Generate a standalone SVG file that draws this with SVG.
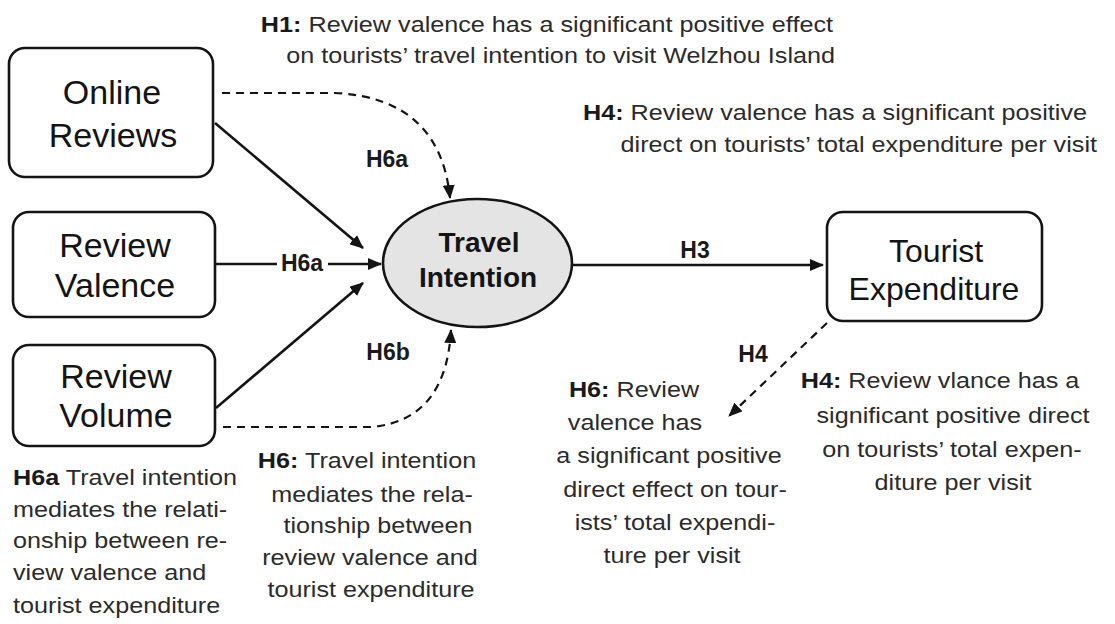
<svg xmlns="http://www.w3.org/2000/svg" width="1115" height="624" viewBox="0 0 1115 624">
<defs>
<style>
.box{fill:#fff;stroke:#141414;stroke-width:2.6}
.ell{fill:#e4e4e4;stroke:#141414;stroke-width:2.6}
.nt{font-family:"Liberation Sans",Arial,sans-serif;font-size:34px;fill:#141414;text-anchor:middle}
.nb{font-family:"Liberation Sans",Arial,sans-serif;font-size:28px;font-weight:bold;fill:#141414;text-anchor:middle}
.ln{fill:none;stroke:#141414;stroke-width:2.6}
.dl{fill:none;stroke:#141414;stroke-width:2.2;stroke-dasharray:8 6}
.lb{font-family:"Liberation Sans",Arial,sans-serif;font-size:23px;font-weight:bold;fill:#1a1a1a;text-anchor:middle}
.an{font-family:"Liberation Sans",Arial,sans-serif;font-size:22.5px;fill:#2b2b2b}
.an tspan.b{font-weight:bold;fill:#1a1a1a}
.m{text-anchor:middle}
.e{text-anchor:end}
</style>
<marker id="arr" viewBox="0 0 14 12" refX="13" refY="6" markerWidth="14" markerHeight="12" markerUnits="userSpaceOnUse" orient="auto">
<path d="M0,0 L14,6 L0,12 z" fill="#141414"/>
</marker>
</defs>
<rect width="1115" height="624" fill="#fff"/>

<g id="connectors">
<path class="ln" d="M215,123 L363,248" marker-end="url(#arr)"/>
<path class="ln" d="M215,264 L277,264"/>
<path class="ln" d="M328,264 L381,264" marker-end="url(#arr)"/>
<path class="ln" d="M216,408 L363,283" marker-end="url(#arr)"/>
<path class="dl" d="M222,93 L335,93 Q440,98 450,198" marker-end="url(#arr)"/>
<path class="dl" d="M223,427 L372,427 Q446,420 451,330" marker-end="url(#arr)"/>
<path class="ln" d="M572,265 L823,265" marker-end="url(#arr)"/>
<path class="dl" d="M827,323 L729,416" marker-end="url(#arr)"/>
</g>

<g id="node-online-reviews">
<rect class="box" x="9" y="48" width="204" height="129" rx="16"/>
<text class="nt" x="112" y="104">Online</text>
<text class="nt" x="113" y="147">Reviews</text>
</g>
<g id="node-review-valence">
<rect class="box" x="13" y="212" width="202" height="105" rx="16"/>
<text class="nt" x="115" y="257">Review</text>
<text class="nt" x="115" y="297">Valence</text>
</g>
<g id="node-review-volume">
<rect class="box" x="13" y="345" width="202" height="101" rx="16"/>
<text class="nt" x="116" y="388">Review</text>
<text class="nt" x="116" y="427">Volume</text>
</g>
<g id="node-travel-intention">
<ellipse class="ell" cx="477.5" cy="263" rx="94.5" ry="64"/>
<text class="nb" x="479" y="252">Travel</text>
<text class="nb" x="478" y="287">Intention</text>
</g>
<g id="node-tourist-expenditure">
<rect class="box" x="827" y="212" width="215" height="109" rx="16"/>
<text class="nt" x="936" y="262" style="font-size:32px">Tourist</text>
<text class="nt" x="934" y="300" style="font-size:32px">Expenditure</text>
</g>

<g id="edge-labels">
<text class="lb" x="387" y="167">H6a</text>
<text class="lb" x="302" y="271">H6a</text>
<text class="lb" x="388" y="360">H6b</text>
<text class="lb" x="695" y="258">H3</text>
<text class="lb" x="753" y="362">H4</text>
</g>

<g id="annotations">
<text class="an e" transform="translate(833,32) scale(1.12,1)"><tspan class="b">H1:</tspan> Review valence has a significant positive effect</text>
<text class="an e" transform="translate(835,63) scale(1.12,1)">on tourists’ travel intention to visit Welzhou Island</text>

<text class="an e" transform="translate(1087,120) scale(1.12,1)"><tspan class="b">H4:</tspan> Review valence has a significant positive</text>
<text class="an e" transform="translate(1097,152) scale(1.12,1)">direct on tourists’ total expenditure per visit</text>

<text class="an" transform="translate(13,485) scale(1.12,1)"><tspan class="b">H6a</tspan> Travel intention</text>
<text class="an" transform="translate(13,517) scale(1.12,1)">mediates the relati-</text>
<text class="an" transform="translate(13,548) scale(1.12,1)">onship between re-</text>
<text class="an" transform="translate(13,580) scale(1.12,1)">view valence and</text>
<text class="an" transform="translate(13,613) scale(1.12,1)">tourist expenditure</text>

<text class="an m" transform="translate(367,468) scale(1.12,1)"><tspan class="b">H6:</tspan> Travel intention</text>
<text class="an m" transform="translate(372,502) scale(1.12,1)">mediates the rela-</text>
<text class="an m" transform="translate(378,533) scale(1.12,1)">tionship between</text>
<text class="an m" transform="translate(370,565) scale(1.12,1)">review valence and</text>
<text class="an m" transform="translate(371,597) scale(1.12,1)">tourist expenditure</text>

<text class="an m" transform="translate(634,397) scale(1.12,1)"><tspan class="b">H6:</tspan> Review</text>
<text class="an m" transform="translate(635,430) scale(1.12,1)">valence has</text>
<text class="an m" transform="translate(669,463) scale(1.12,1)">a significant positive</text>
<text class="an m" transform="translate(675,497) scale(1.12,1)">direct effect on tour-</text>
<text class="an m" transform="translate(675,530) scale(1.12,1)">ists’ total expendi-</text>
<text class="an m" transform="translate(672,563) scale(1.12,1)">ture per visit</text>

<text class="an m" transform="translate(940,388) scale(1.12,1)"><tspan class="b">H4:</tspan> Review vlance has a</text>
<text class="an m" transform="translate(953,423) scale(1.12,1)">significant positive direct</text>
<text class="an m" transform="translate(952,457) scale(1.12,1)">on tourists’ total expen-</text>
<text class="an m" transform="translate(953,490) scale(1.12,1)">diture per visit</text>
</g>
</svg>
